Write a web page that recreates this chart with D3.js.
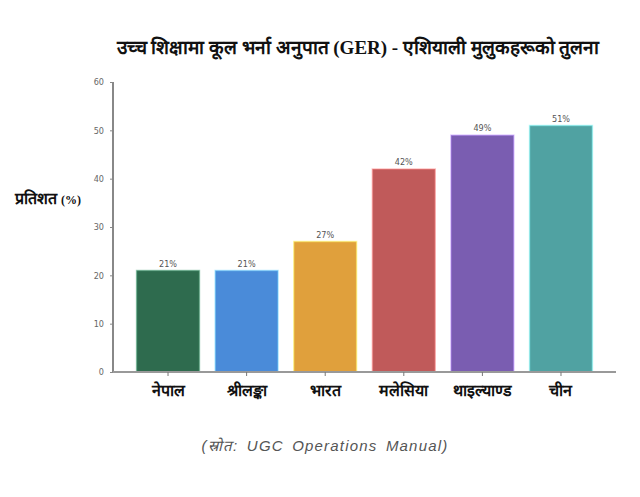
<!DOCTYPE html>
<html>
<head>
<meta charset="utf-8">
<script src="https://cdn.jsdelivr.net/npm/d3@7"></script>
<style>
  body { margin: 0; background: #fff; }
  svg { display: block; }
  .tick text { font-family: "DejaVu Sans Condensed", "Liberation Sans Narrow", sans-serif; font-size: 9px; fill: #666; }
</style>
</head>
<body>
<svg id="chart" width="640" height="497"></svg>
<script>
var countries = ["नेपाल", "श्रीलङ्का", "भारत", "मलेसिया", "थाइल्याण्ड", "चीन"];
var ger = [21, 21, 27, 42, 49, 51];
var barColors = ["#2e6b4e", "#4a8bd9", "#e0a03c", "#c05a5a", "#7a5db1", "#50a2a2"];
var yTicks = [0, 10, 20, 30, 40, 50, 60];

var svg = d3.select("#chart");
var mLeft = 113, mRight = 616, mTop = 82, mBottom = 372;

var x = d3.scaleBand()
    .domain(countries)
    .range([mLeft, mRight])
    .paddingInner(0.2)
    .paddingOuter(0.3);

var y = d3.scaleLinear()
    .domain([0, 60])
    .range([mBottom, mTop]);

// title
svg.append("text")
    .attr("x", 358)
    .attr("y", 54)
    .attr("text-anchor", "middle")
    .style("font-family", "serif")
    .style("font-weight", "bold")
    .style("font-size", "19px")
    .style("fill", "#111")
    .text("उच्च शिक्षामा कूल भर्ना अनुपात (GER) - एशियाली मुलुकहरूको तुलना");

// y axis
var yAxis = svg.append("g")
    .attr("transform", "translate(" + mLeft + ",0)")
    .call(d3.axisLeft(y).tickValues(yTicks).tickSize(3).tickPadding(6));
yAxis.select(".domain").attr("stroke", "#888").attr("stroke-width", 2).attr("d", "M0," + mTop + "V" + mBottom);
yAxis.selectAll(".tick line").attr("stroke", "#888");

// bars
svg.selectAll(".bar")
    .data(countries)
    .enter().append("rect")
    .attr("class", "bar")
    .attr("x", function(d) { return x(d); })
    .attr("y", function(d, i) { return y(ger[i]); })
    .attr("width", x.bandwidth())
    .attr("height", function(d, i) { return y(0) - y(ger[i]); })
    .attr("fill", function(d, i) { return barColors[i]; })
    .attr("stroke", function(d, i) { return d3.color(barColors[i]).brighter(1.2); })
    .attr("stroke-opacity", 0.5)
    .attr("stroke-width", 1.5);

// value labels
svg.selectAll(".val")
    .data(countries)
    .enter().append("text")
    .attr("class", "val")
    .attr("x", function(d) { return x(d) + x.bandwidth() / 2; })
    .attr("y", function(d, i) { return y(ger[i]) - 4; })
    .attr("text-anchor", "middle")
    .style("font-family", "'DejaVu Sans Condensed', 'Liberation Sans Narrow', sans-serif")
    .style("font-size", "9px")
    .style("fill", "#555")
    .text(function(d, i) { return ger[i] + "%"; });

// x axis
var xAxis = svg.append("g")
    .attr("transform", "translate(0," + mBottom + ")")
    .call(d3.axisBottom(x).tickSize(4).tickFormat(""));
xAxis.select(".domain").attr("stroke", "#999").attr("stroke-width", 2).attr("d", "M" + mLeft + ",0H" + mRight);
xAxis.selectAll(".tick line").attr("stroke", "#777");
xAxis.selectAll(".tick").append("text")
    .attr("y", 24)
    .attr("text-anchor", "middle")
    .style("font-family", "serif")
    .style("font-weight", "bold")
    .style("font-size", "16px")
    .style("fill", "#111")
    .text(function(d) { return d; });

// y label
svg.append("text")
    .attr("x", 15)
    .attr("y", 204)
    .style("font-family", "serif")
    .style("font-weight", "bold")
    .style("fill", "#111")
    .call(function(t) {
        t.append("tspan").style("font-size", "16px").text("प्रतिशत ");
        t.append("tspan").style("font-size", "12px").text("(%)");
    });

// source
svg.append("text")
    .attr("x", 325)
    .attr("y", 451)
    .attr("text-anchor", "middle")
    .style("font-family", "'Liberation Sans', Arial, sans-serif")
    .style("font-style", "italic")
    .style("font-size", "15px")
    .style("letter-spacing", "1.2px")
    .style("word-spacing", "3px")
    .style("fill", "#555")
    .text("(स्रोत: UGC Operations Manual)");
</script>
</body>
</html>
